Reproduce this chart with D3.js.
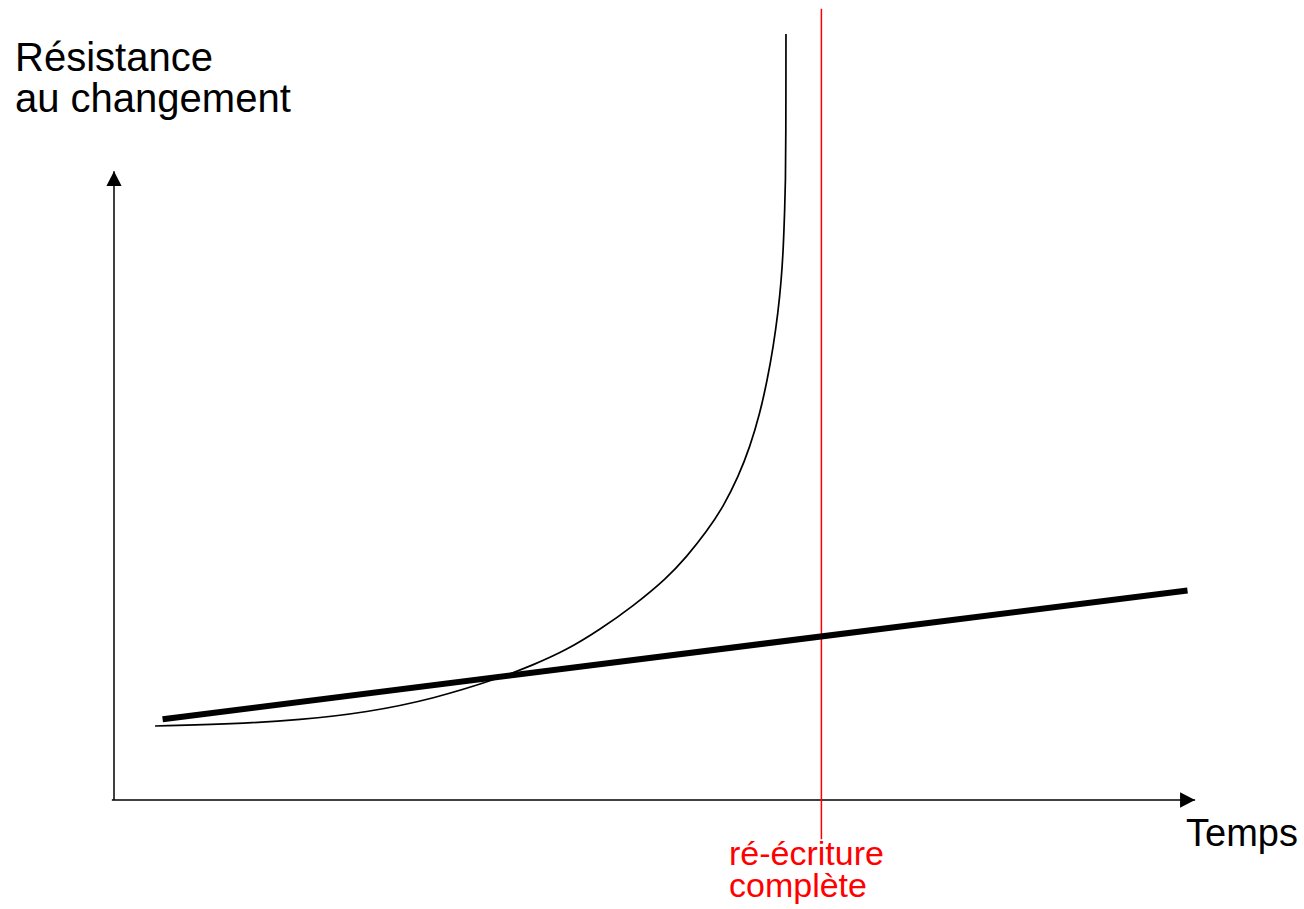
<!DOCTYPE html>
<html>
<head>
<meta charset="utf-8">
<script src="https://cdn.jsdelivr.net/npm/d3@7"></script>
<style>
  html, body { margin: 0; padding: 0; background: #fff; }
  svg { display: block; }
  text { font-family: "Liberation Sans", Arial, Helvetica, sans-serif; }
</style>
</head>
<body>
<svg id="chart" width="1304" height="909"></svg>
<script>
// ---- data ----
const curveTime = [3.80, 11.02, 17.22, 23.40, 29.56, 35.74, 38.82, 41.92, 45.0, 48.08, 51.18, 53.03, 54.88, 56.42, 57.81, 58.89, 59.81, 60.49, 61.04, 61.48, 61.79, 61.98, 62.09, 62.18, 62.21, 62.22];
const curveResistance = [9.25, 9.5, 10.0, 10.94, 12.63, 15.25, 16.88, 18.75, 21.31, 24.25, 27.71, 30.41, 33.56, 36.66, 40.41, 44.16, 48.34, 52.5, 56.63, 60.88, 65.0, 69.13, 73.38, 77.5, 82.5, 95.75];
const lineTime = [4.5, 99.4];
const lineResistance = [10.1, 26.2];
const rewriteTime = [65.5];
const yLabelLines = ["Résistance", "au changement"];
const xLabel = "Temps";
const rewriteLabelLines = ["ré-écriture", "complète"];

// ---- layout ----
const svg = d3.select("#chart");
const x = d3.scaleLinear().domain([0, 100]).range([114, 1194]);
const y = d3.scaleLinear().domain([0, 100]).range([800, 0]);

const defs = svg.append("defs");
defs.append("marker")
  .attr("id", "arrow")
  .attr("viewBox", "0 0 16 16")
  .attr("refX", 15).attr("refY", 8)
  .attr("markerWidth", 16).attr("markerHeight", 16)
  .attr("markerUnits", "userSpaceOnUse")
  .attr("orient", "auto")
  .append("path")
  .attr("d", "M0,0.3 L15,8 L0,15.7 Z")
  .attr("fill", "#000");

// axes
svg.append("line")
  .attr("x1", x(-0.2)).attr("y1", y(0))
  .attr("x2", x(100.1)).attr("y2", y(0))
  .attr("stroke", "#000").attr("stroke-width", 1.5)
  .attr("marker-end", "url(#arrow)");
svg.append("line")
  .attr("x1", x(0)).attr("y1", y(0))
  .attr("x2", x(0)).attr("y2", y(78.6))
  .attr("stroke", "#000").attr("stroke-width", 1.5)
  .attr("marker-end", "url(#arrow)");

// red rewrite marker
svg.selectAll(".rewrite").data(rewriteTime).enter().append("line")
  .attr("class", "rewrite")
  .attr("x1", d => x(d)).attr("x2", d => x(d))
  .attr("y1", y(98.9)).attr("y2", y(-4.9))
  .attr("stroke", "#ff0000").attr("stroke-width", 1.5);

// curve
const curvePts = curveTime.map((t, i) => [t, curveResistance[i]]);
svg.append("path")
  .datum(curvePts)
  .attr("fill", "none").attr("stroke", "#000").attr("stroke-width", 1.7)
  .attr("d", d3.line().x(d => x(d[0])).y(d => y(d[1])).curve(d3.curveBasis));

// thick line
const linePts = lineTime.map((t, i) => [t, lineResistance[i]]);
svg.append("path")
  .datum(linePts)
  .attr("fill", "none").attr("stroke", "#000").attr("stroke-width", 6)
  .attr("d", d3.line().x(d => x(d[0])).y(d => y(d[1])));

// labels
yLabelLines.forEach((t, i) => {
  svg.append("text")
    .attr("x", 15).attr("y", 71 + i * 41)
    .attr("font-size", 40).attr("fill", "#000")
    .text(t);
});

svg.append("text")
  .attr("x", 1186).attr("y", 846)
  .attr("font-size", 38).attr("fill", "#000")
  .text(xLabel);

rewriteLabelLines.forEach((t, i) => {
  svg.append("text")
    .attr("x", 729).attr("y", 865 + i * 32)
    .attr("font-size", 34).attr("fill", "#ff0000")
    .text(t);
});
</script>
</body>
</html>
